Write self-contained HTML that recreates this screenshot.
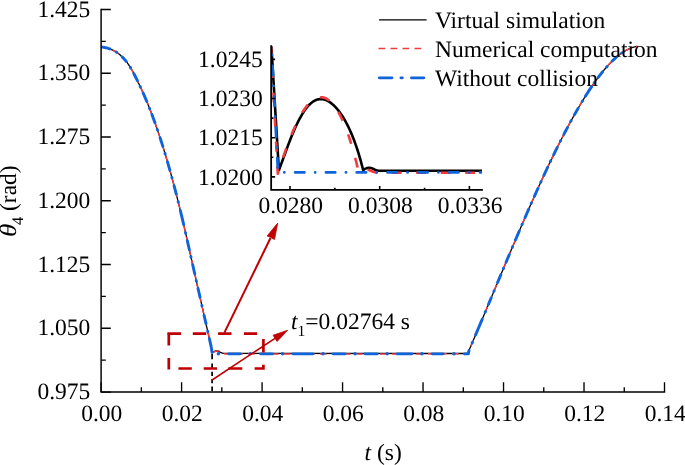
<!DOCTYPE html>
<html><head><meta charset="utf-8"><style>
html,body{margin:0;padding:0;background:#fff;}
svg{display:block;text-rendering:geometricPrecision;will-change:transform;}
</style></head><body>
<svg width="685" height="465" viewBox="0 0 685 465" font-family="Liberation Serif" font-size="23.5">
<defs>
<clipPath id="ic"><rect x="271.15" y="46.2" width="210.85000000000002" height="143.7"/></clipPath>
<clipPath id="mc"><rect x="101.1" y="9.5" width="563.5" height="382.55"/></clipPath>
</defs>
<!-- main curves -->
<g fill="none" stroke-linejoin="round" clip-path="url(#mc)">
<path d="M101.20,46.96 L101.70,47.02 L102.20,47.09 L102.70,47.16 L103.20,47.24 L103.70,47.32 L104.20,47.41 L104.70,47.50 L105.20,47.61 L105.70,47.71 L106.20,47.83 L106.70,47.95 L107.20,48.08 L107.70,48.22 L108.20,48.37 L108.70,48.52 L109.20,48.68 L109.70,48.86 L110.20,49.04 L110.70,49.23 L111.20,49.43 L111.70,49.64 L112.20,49.86 L112.70,50.09 L113.20,50.33 L113.70,50.59 L114.20,50.85 L114.70,51.13 L115.20,51.42 L115.70,51.72 L116.20,52.04 L116.70,52.36 L117.20,52.70 L117.70,53.06 L118.20,53.43 L118.70,53.81 L119.20,54.20 L119.70,54.61 L120.20,55.04 L120.70,55.48 L121.20,55.94 L121.70,56.41 L122.20,56.90 L122.70,57.40 L123.20,57.92 L123.70,58.46 L124.20,59.02 L124.70,59.59 L125.20,60.18 L125.70,60.79 L126.20,61.42 L126.70,62.06 L127.20,62.73 L127.70,63.42 L128.20,64.12 L128.70,64.85 L129.20,65.60 L129.70,66.37 L130.20,67.16 L130.70,67.97 L131.20,68.81 L131.70,69.67 L132.20,70.55 L132.70,71.45 L133.20,72.37 L133.70,73.31 L134.20,74.27 L134.70,75.24 L135.20,76.23 L135.70,77.23 L136.20,78.24 L136.70,79.26 L137.20,80.29 L137.70,81.33 L138.20,82.38 L138.70,83.43 L139.20,84.48 L139.70,85.54 L140.20,86.61 L140.70,87.68 L141.20,88.75 L141.70,89.84 L142.20,90.93 L142.70,92.04 L143.20,93.15 L143.70,94.28 L144.20,95.42 L144.70,96.57 L145.20,97.73 L145.70,98.90 L146.20,100.09 L146.70,101.28 L147.20,102.49 L147.70,103.71 L148.20,104.94 L148.70,106.18 L149.20,107.44 L149.70,108.71 L150.20,109.99 L150.70,111.28 L151.20,112.58 L151.70,113.90 L152.20,115.22 L152.70,116.56 L153.20,117.92 L153.70,119.28 L154.20,120.66 L154.70,122.04 L155.20,123.45 L155.70,124.86 L156.20,126.28 L156.70,127.72 L157.20,129.17 L157.70,130.64 L158.20,132.11 L158.70,133.60 L159.20,135.10 L159.70,136.61 L160.20,138.14 L160.70,139.68 L161.20,141.23 L161.70,142.79 L162.20,144.37 L162.70,145.96 L163.20,147.56 L163.70,149.18 L164.20,150.81 L164.70,152.45 L165.20,154.11 L165.70,155.77 L166.20,157.45 L166.70,159.15 L167.20,160.86 L167.70,162.58 L168.20,164.31 L168.70,166.06 L169.20,167.82 L169.70,169.59 L170.20,171.38 L170.70,173.18 L171.20,174.99 L171.70,176.82 L172.20,178.66 L172.70,180.52 L173.20,182.38 L173.70,184.26 L174.20,186.16 L174.70,188.07 L175.20,189.99 L175.70,191.93 L176.20,193.88 L176.70,195.84 L177.20,197.81 L177.70,199.80 L178.20,201.81 L178.70,203.82 L179.20,205.85 L179.70,207.90 L180.20,209.96 L180.70,212.03 L181.20,214.11 L181.70,216.21 L182.20,218.32 L182.70,220.44 L183.20,222.58 L183.70,224.73 L184.20,226.90 L184.70,229.07 L185.20,231.26 L185.70,233.46 L186.20,235.66 L186.70,237.88 L187.20,240.10 L187.70,242.33 L188.20,244.56 L188.70,246.80 L189.20,249.05 L189.70,251.29 L190.20,253.54 L190.70,255.78 L191.20,258.03 L191.70,260.27 L192.20,262.51 L192.70,264.75 L193.20,266.99 L193.70,269.22 L194.20,271.45 L194.70,273.68 L195.20,275.91 L195.70,278.13 L196.20,280.35 L196.70,282.58 L197.20,284.79 L197.70,287.01 L198.20,289.23 L198.70,291.45 L199.20,293.66 L199.70,295.88 L200.20,298.09 L200.70,300.30 L201.20,302.51 L201.70,304.73 L202.20,306.94 L202.70,309.15 L203.20,311.36 L203.70,313.57 L204.20,315.78 L204.70,318.00 L205.20,320.21 L205.70,322.42 L206.20,324.64 L206.70,326.85 L207.20,329.07 L207.70,331.28 L208.20,333.50 L208.70,335.72 L209.20,337.94 L209.70,340.17 L210.20,342.39 L210.70,344.62 L211.20,346.85 L212.10,352.80 L213.50,351.90 L215.00,351.20 L216.70,351.00 L218.50,351.30 L220.50,352.30 L222.50,353.20 L224.50,353.40 L468.00,353.50 L468.50,351.51 L469.00,350.34 L469.50,349.18 L470.00,348.02 L470.50,346.85 L471.00,345.68 L471.50,344.51 L472.00,343.34 L472.50,342.17 L473.00,341.00 L473.50,339.83 L474.00,338.65 L474.50,337.48 L475.00,336.30 L475.50,335.12 L476.00,333.94 L476.50,332.76 L477.00,331.58 L477.50,330.40 L478.00,329.22 L478.50,328.04 L479.00,326.85 L479.50,325.67 L480.00,324.48 L480.50,323.30 L481.00,322.11 L481.50,320.92 L482.00,319.73 L482.50,318.54 L483.00,317.36 L483.50,316.16 L484.00,314.97 L484.50,313.78 L485.00,312.59 L485.50,311.40 L486.00,310.21 L486.50,309.01 L487.00,307.82 L487.50,306.62 L488.00,305.43 L488.50,304.23 L489.00,303.04 L489.50,301.84 L490.00,300.65 L490.50,299.45 L491.00,298.26 L491.50,297.06 L492.00,295.86 L492.50,294.67 L493.00,293.47 L493.50,292.27 L494.00,291.07 L494.50,289.88 L495.00,288.68 L495.50,287.48 L496.00,286.28 L496.50,285.09 L497.00,283.89 L497.50,282.69 L498.00,281.50 L498.50,280.30 L499.00,279.10 L499.50,277.90 L500.00,276.71 L500.50,275.51 L501.00,274.32 L501.50,273.12 L502.00,271.93 L502.50,270.73 L503.00,269.54 L503.50,268.34 L504.00,267.15 L504.50,265.95 L505.00,264.76 L505.50,263.57 L506.00,262.38 L506.50,261.18 L507.00,259.99 L507.50,258.80 L508.00,257.61 L508.50,256.42 L509.00,255.24 L509.50,254.05 L510.00,252.86 L510.50,251.67 L511.00,250.49 L511.50,249.30 L512.00,248.12 L512.50,246.94 L513.00,245.75 L513.50,244.57 L514.00,243.39 L514.50,242.21 L515.00,241.03 L515.50,239.86 L516.00,238.68 L516.50,237.50 L517.00,236.33 L517.50,235.16 L518.00,233.98 L518.50,232.81 L519.00,231.64 L519.50,230.47 L520.00,229.30 L520.50,228.14 L521.00,226.97 L521.50,225.81 L522.00,224.64 L522.50,223.48 L523.00,222.32 L523.50,221.16 L524.00,220.01 L524.50,218.85 L525.00,217.70 L525.50,216.54 L526.00,215.39 L526.50,214.24 L527.00,213.09 L527.50,211.95 L528.00,210.80 L528.50,209.66 L529.00,208.51 L529.50,207.37 L530.00,206.23 L530.50,205.10 L531.00,203.96 L531.50,202.83 L532.00,201.70 L532.50,200.57 L533.00,199.44 L533.50,198.31 L534.00,197.19 L534.50,196.07 L535.00,194.94 L535.50,193.83 L536.00,192.71 L536.50,191.59 L537.00,190.48 L537.50,189.37 L538.00,188.26 L538.50,187.16 L539.00,186.05 L539.50,184.95 L540.00,183.85 L540.50,182.75 L541.00,181.66 L541.50,180.56 L542.00,179.47 L542.50,178.38 L543.00,177.30 L543.50,176.21 L544.00,175.13 L544.50,174.05 L545.00,172.98 L545.50,171.90 L546.00,170.83 L546.50,169.76 L547.00,168.70 L547.50,167.63 L548.00,166.57 L548.50,165.51 L549.00,164.45 L549.50,163.40 L550.00,162.35 L550.50,161.30 L551.00,160.25 L551.50,159.21 L552.00,158.17 L552.50,157.13 L553.00,156.10 L553.50,155.07 L554.00,154.04 L554.50,153.01 L555.00,151.99 L555.50,150.97 L556.00,149.95 L556.50,148.94 L557.00,147.93 L557.50,146.92 L558.00,145.92 L558.50,144.91 L559.00,143.92 L559.50,142.92 L560.00,141.93 L560.50,140.94 L561.00,139.95 L561.50,138.97 L562.00,137.99 L562.50,137.01 L563.00,136.04 L563.50,135.07 L564.00,134.11 L564.50,133.14 L565.00,132.18 L565.50,131.23 L566.00,130.28 L566.50,129.33 L567.00,128.38 L567.50,127.44 L568.00,126.50 L568.50,125.57 L569.00,124.63 L569.50,123.71 L570.00,122.78 L570.50,121.86 L571.00,120.95 L571.50,120.03 L572.00,119.13 L572.50,118.22 L573.00,117.32 L573.50,116.42 L574.00,115.53 L574.50,114.64 L575.00,113.75 L575.50,112.87 L576.00,111.99 L576.50,111.12 L577.00,110.25 L577.50,109.38 L578.00,108.52 L578.50,107.66 L579.00,106.81 L579.50,105.96 L580.00,105.12 L580.50,104.27 L581.00,103.44 L581.50,102.60 L582.00,101.78 L582.50,100.95 L583.00,100.13 L583.50,99.32 L584.00,98.50 L584.50,97.70 L585.00,96.90 L585.50,96.10 L586.00,95.30 L586.50,94.51 L587.00,93.73 L587.50,92.95 L588.00,92.17 L588.50,91.40 L589.00,90.64 L589.50,89.88 L590.00,89.12 L590.50,88.37 L591.00,87.62 L591.50,86.88 L592.00,86.14 L592.50,85.41 L593.00,84.68 L593.50,83.96 L594.00,83.24 L594.50,82.53 L595.00,81.83 L595.50,81.12 L596.00,80.43 L596.50,79.74 L597.00,79.05 L597.50,78.37 L598.00,77.70 L598.50,77.03 L599.00,76.37 L599.50,75.71 L600.00,75.06 L600.50,74.42 L601.00,73.78 L601.50,73.14 L602.00,72.52 L602.50,71.89 L603.00,71.28 L603.50,70.67 L604.00,70.07 L604.50,69.47 L605.00,68.88 L605.50,68.29 L606.00,67.72 L606.50,67.15 L607.00,66.58 L607.50,66.02 L608.00,65.47 L608.50,64.92 L609.00,64.38 L609.50,63.85 L610.00,63.33 L610.50,62.81 L611.00,62.30 L611.50,61.79 L612.00,61.29 L612.50,60.80 L613.00,60.32 L613.50,59.84 L614.00,59.37 L614.50,58.91 L615.00,58.46 L615.50,58.01 L616.00,57.57 L616.50,57.13 L617.00,56.71 L617.50,56.29 L618.00,55.88 L618.50,55.48 L619.00,55.08 L619.50,54.69 L620.00,54.31 L620.50,53.94 L621.00,53.58 L621.50,53.22 L622.00,52.87 L622.50,52.53 L623.00,52.20 L623.50,51.88 L624.00,51.56 L624.50,51.25 L625.00,50.95 L625.50,50.66 L626.00,50.38 L626.50,50.11 L627.00,49.84 L627.50,49.58 L628.00,49.33 L628.50,49.09 L629.00,48.86 L629.50,48.64 L630.00,48.42 L630.50,48.22 L631.00,48.02 L631.50,47.83 L632.00,47.65 L632.50,47.48 L633.00,47.32 L633.50,47.17 L634.00,47.03 L634.50,46.90 L635.00,46.77 L635.50,46.66 L636.00,46.55 L636.50,46.46 L637.00,46.37 L637.50,46.29" stroke="#000" stroke-width="1.3"/>
<path d="M101.20,46.96 L101.70,47.02 L102.20,47.09 L102.70,47.16 L103.20,47.24 L103.70,47.32 L104.20,47.41 L104.70,47.50 L105.20,47.61 L105.70,47.71 L106.20,47.83 L106.70,47.95 L107.20,48.08 L107.70,48.22 L108.20,48.37 L108.70,48.52 L109.20,48.68 L109.70,48.86 L110.20,49.04 L110.70,49.23 L111.20,49.43 L111.70,49.64 L112.20,49.86 L112.70,50.09 L113.20,50.33 L113.70,50.59 L114.20,50.85 L114.70,51.13 L115.20,51.42 L115.70,51.72 L116.20,52.04 L116.70,52.36 L117.20,52.70 L117.70,53.06 L118.20,53.43 L118.70,53.81 L119.20,54.20 L119.70,54.61 L120.20,55.04 L120.70,55.48 L121.20,55.94 L121.70,56.41 L122.20,56.90 L122.70,57.40 L123.20,57.92 L123.70,58.46 L124.20,59.02 L124.70,59.59 L125.20,60.18 L125.70,60.79 L126.20,61.42 L126.70,62.06 L127.20,62.73 L127.70,63.42 L128.20,64.12 L128.70,64.85 L129.20,65.60 L129.70,66.37 L130.20,67.16 L130.70,67.97 L131.20,68.81 L131.70,69.67 L132.20,70.55 L132.70,71.45 L133.20,72.37 L133.70,73.31 L134.20,74.27 L134.70,75.24 L135.20,76.23 L135.70,77.23 L136.20,78.24 L136.70,79.26 L137.20,80.29 L137.70,81.33 L138.20,82.38 L138.70,83.43 L139.20,84.48 L139.70,85.54 L140.20,86.61 L140.70,87.68 L141.20,88.75 L141.70,89.84 L142.20,90.93 L142.70,92.04 L143.20,93.15 L143.70,94.28 L144.20,95.42 L144.70,96.57 L145.20,97.73 L145.70,98.90 L146.20,100.09 L146.70,101.28 L147.20,102.49 L147.70,103.71 L148.20,104.94 L148.70,106.18 L149.20,107.44 L149.70,108.71 L150.20,109.99 L150.70,111.28 L151.20,112.58 L151.70,113.90 L152.20,115.22 L152.70,116.56 L153.20,117.92 L153.70,119.28 L154.20,120.66 L154.70,122.04 L155.20,123.45 L155.70,124.86 L156.20,126.28 L156.70,127.72 L157.20,129.17 L157.70,130.64 L158.20,132.11 L158.70,133.60 L159.20,135.10 L159.70,136.61 L160.20,138.14 L160.70,139.68 L161.20,141.23 L161.70,142.79 L162.20,144.37 L162.70,145.96 L163.20,147.56 L163.70,149.18 L164.20,150.81 L164.70,152.45 L165.20,154.11 L165.70,155.77 L166.20,157.45 L166.70,159.15 L167.20,160.86 L167.70,162.58 L168.20,164.31 L168.70,166.06 L169.20,167.82 L169.70,169.59 L170.20,171.38 L170.70,173.18 L171.20,174.99 L171.70,176.82 L172.20,178.66 L172.70,180.52 L173.20,182.38 L173.70,184.26 L174.20,186.16 L174.70,188.07 L175.20,189.99 L175.70,191.93 L176.20,193.88 L176.70,195.84 L177.20,197.81 L177.70,199.80 L178.20,201.81 L178.70,203.82 L179.20,205.85 L179.70,207.90 L180.20,209.96 L180.70,212.03 L181.20,214.11 L181.70,216.21 L182.20,218.32 L182.70,220.44 L183.20,222.58 L183.70,224.73 L184.20,226.90 L184.70,229.07 L185.20,231.26 L185.70,233.46 L186.20,235.66 L186.70,237.88 L187.20,240.10 L187.70,242.33 L188.20,244.56 L188.70,246.80 L189.20,249.05 L189.70,251.29 L190.20,253.54 L190.70,255.78 L191.20,258.03 L191.70,260.27 L192.20,262.51 L192.70,264.75 L193.20,266.99 L193.70,269.22 L194.20,271.45 L194.70,273.68 L195.20,275.91 L195.70,278.13 L196.20,280.35 L196.70,282.58 L197.20,284.79 L197.70,287.01 L198.20,289.23 L198.70,291.45 L199.20,293.66 L199.70,295.88 L200.20,298.09 L200.70,300.30 L201.20,302.51 L201.70,304.73 L202.20,306.94 L202.70,309.15 L203.20,311.36 L203.70,313.57 L204.20,315.78 L204.70,318.00 L205.20,320.21 L205.70,322.42 L206.20,324.64 L206.70,326.85 L207.20,329.07 L207.70,331.28 L208.20,333.50 L208.70,335.72 L209.20,337.94 L209.70,340.17 L210.20,342.39 L210.70,344.62 L211.20,346.85 L212.10,352.80 L213.50,352.30 L215.50,351.40 L217.50,350.90 L219.50,350.90 L221.50,352.00 L223.50,353.60 L225.50,354.00 L468.00,353.85 L468.50,351.51 L469.00,350.34 L469.50,349.18 L470.00,348.02 L470.50,346.85 L471.00,345.68 L471.50,344.51 L472.00,343.34 L472.50,342.17 L473.00,341.00 L473.50,339.83 L474.00,338.65 L474.50,337.48 L475.00,336.30 L475.50,335.12 L476.00,333.94 L476.50,332.76 L477.00,331.58 L477.50,330.40 L478.00,329.22 L478.50,328.04 L479.00,326.85 L479.50,325.67 L480.00,324.48 L480.50,323.30 L481.00,322.11 L481.50,320.92 L482.00,319.73 L482.50,318.54 L483.00,317.36 L483.50,316.16 L484.00,314.97 L484.50,313.78 L485.00,312.59 L485.50,311.40 L486.00,310.21 L486.50,309.01 L487.00,307.82 L487.50,306.62 L488.00,305.43 L488.50,304.23 L489.00,303.04 L489.50,301.84 L490.00,300.65 L490.50,299.45 L491.00,298.26 L491.50,297.06 L492.00,295.86 L492.50,294.67 L493.00,293.47 L493.50,292.27 L494.00,291.07 L494.50,289.88 L495.00,288.68 L495.50,287.48 L496.00,286.28 L496.50,285.09 L497.00,283.89 L497.50,282.69 L498.00,281.50 L498.50,280.30 L499.00,279.10 L499.50,277.90 L500.00,276.71 L500.50,275.51 L501.00,274.32 L501.50,273.12 L502.00,271.93 L502.50,270.73 L503.00,269.54 L503.50,268.34 L504.00,267.15 L504.50,265.95 L505.00,264.76 L505.50,263.57 L506.00,262.38 L506.50,261.18 L507.00,259.99 L507.50,258.80 L508.00,257.61 L508.50,256.42 L509.00,255.24 L509.50,254.05 L510.00,252.86 L510.50,251.67 L511.00,250.49 L511.50,249.30 L512.00,248.12 L512.50,246.94 L513.00,245.75 L513.50,244.57 L514.00,243.39 L514.50,242.21 L515.00,241.03 L515.50,239.86 L516.00,238.68 L516.50,237.50 L517.00,236.33 L517.50,235.16 L518.00,233.98 L518.50,232.81 L519.00,231.64 L519.50,230.47 L520.00,229.30 L520.50,228.14 L521.00,226.97 L521.50,225.81 L522.00,224.64 L522.50,223.48 L523.00,222.32 L523.50,221.16 L524.00,220.01 L524.50,218.85 L525.00,217.70 L525.50,216.54 L526.00,215.39 L526.50,214.24 L527.00,213.09 L527.50,211.95 L528.00,210.80 L528.50,209.66 L529.00,208.51 L529.50,207.37 L530.00,206.23 L530.50,205.10 L531.00,203.96 L531.50,202.83 L532.00,201.70 L532.50,200.57 L533.00,199.44 L533.50,198.31 L534.00,197.19 L534.50,196.07 L535.00,194.94 L535.50,193.83 L536.00,192.71 L536.50,191.59 L537.00,190.48 L537.50,189.37 L538.00,188.26 L538.50,187.16 L539.00,186.05 L539.50,184.95 L540.00,183.85 L540.50,182.75 L541.00,181.66 L541.50,180.56 L542.00,179.47 L542.50,178.38 L543.00,177.30 L543.50,176.21 L544.00,175.13 L544.50,174.05 L545.00,172.98 L545.50,171.90 L546.00,170.83 L546.50,169.76 L547.00,168.70 L547.50,167.63 L548.00,166.57 L548.50,165.51 L549.00,164.45 L549.50,163.40 L550.00,162.35 L550.50,161.30 L551.00,160.25 L551.50,159.21 L552.00,158.17 L552.50,157.13 L553.00,156.10 L553.50,155.07 L554.00,154.04 L554.50,153.01 L555.00,151.99 L555.50,150.97 L556.00,149.95 L556.50,148.94 L557.00,147.93 L557.50,146.92 L558.00,145.92 L558.50,144.91 L559.00,143.92 L559.50,142.92 L560.00,141.93 L560.50,140.94 L561.00,139.95 L561.50,138.97 L562.00,137.99 L562.50,137.01 L563.00,136.04 L563.50,135.07 L564.00,134.11 L564.50,133.14 L565.00,132.18 L565.50,131.23 L566.00,130.28 L566.50,129.33 L567.00,128.38 L567.50,127.44 L568.00,126.50 L568.50,125.57 L569.00,124.63 L569.50,123.71 L570.00,122.78 L570.50,121.86 L571.00,120.95 L571.50,120.03 L572.00,119.13 L572.50,118.22 L573.00,117.32 L573.50,116.42 L574.00,115.53 L574.50,114.64 L575.00,113.75 L575.50,112.87 L576.00,111.99 L576.50,111.12 L577.00,110.25 L577.50,109.38 L578.00,108.52 L578.50,107.66 L579.00,106.81 L579.50,105.96 L580.00,105.12 L580.50,104.27 L581.00,103.44 L581.50,102.60 L582.00,101.78 L582.50,100.95 L583.00,100.13 L583.50,99.32 L584.00,98.50 L584.50,97.70 L585.00,96.90 L585.50,96.10 L586.00,95.30 L586.50,94.51 L587.00,93.73 L587.50,92.95 L588.00,92.17 L588.50,91.40 L589.00,90.64 L589.50,89.88 L590.00,89.12 L590.50,88.37 L591.00,87.62 L591.50,86.88 L592.00,86.14 L592.50,85.41 L593.00,84.68 L593.50,83.96 L594.00,83.24 L594.50,82.53 L595.00,81.83 L595.50,81.12 L596.00,80.43 L596.50,79.74 L597.00,79.05 L597.50,78.37 L598.00,77.70 L598.50,77.03 L599.00,76.37 L599.50,75.71 L600.00,75.06 L600.50,74.42 L601.00,73.78 L601.50,73.14 L602.00,72.52 L602.50,71.89 L603.00,71.28 L603.50,70.67 L604.00,70.07 L604.50,69.47 L605.00,68.88 L605.50,68.29 L606.00,67.72 L606.50,67.15 L607.00,66.58 L607.50,66.02 L608.00,65.47 L608.50,64.92 L609.00,64.38 L609.50,63.85 L610.00,63.33 L610.50,62.81 L611.00,62.30 L611.50,61.79 L612.00,61.29 L612.50,60.80 L613.00,60.32 L613.50,59.84 L614.00,59.37 L614.50,58.91 L615.00,58.46 L615.50,58.01 L616.00,57.57 L616.50,57.13 L617.00,56.71 L617.50,56.29 L618.00,55.88 L618.50,55.48 L619.00,55.08 L619.50,54.69 L620.00,54.31 L620.50,53.94 L621.00,53.58 L621.50,53.22 L622.00,52.87 L622.50,52.53 L623.00,52.20 L623.50,51.88 L624.00,51.56 L624.50,51.25 L625.00,50.95 L625.50,50.66 L626.00,50.38 L626.50,50.11 L627.00,49.84 L627.50,49.58 L628.00,49.33 L628.50,49.09 L629.00,48.86 L629.50,48.64 L630.00,48.42 L630.50,48.22 L631.00,48.02 L631.50,47.83 L632.00,47.65 L632.50,47.48 L633.00,47.32 L633.50,47.17 L634.00,47.03 L634.50,46.90 L635.00,46.77 L635.50,46.66 L636.00,46.55 L636.50,46.46 L637.00,46.37 L637.50,46.29" stroke="#F23B3F" stroke-width="1.5" stroke-dasharray="6.7 5.3"/>
<g stroke="#0F64DC" stroke-width="2.9" stroke-linecap="round">
<path d="M101.20,46.96 L101.70,47.02 L102.20,47.09 L102.70,47.16 L103.20,47.24 L103.70,47.32 L104.20,47.41 L104.70,47.50 L105.20,47.61 L105.70,47.71 L106.20,47.83 L106.70,47.95 L107.20,48.08 L107.70,48.22 L108.20,48.37 L108.70,48.52 L109.20,48.68 L109.70,48.86 L110.20,49.04 L110.70,49.23 L111.20,49.43 L111.70,49.64 L112.20,49.86 L112.70,50.09 L113.20,50.33 L113.70,50.59 L114.20,50.85 L114.70,51.13 L115.20,51.42 L115.70,51.72 L116.20,52.04 L116.70,52.36 L117.20,52.70 L117.70,53.06 L118.20,53.43 L118.70,53.81 L119.20,54.20 L119.70,54.61 L120.20,55.04 L120.70,55.48 L121.20,55.94 L121.70,56.41 L122.20,56.90 L122.70,57.40 L123.20,57.92 L123.70,58.46 L124.20,59.02 L124.70,59.59 L125.20,60.18 L125.70,60.79 L126.20,61.42 L126.70,62.06 L127.20,62.73 L127.70,63.42 L128.20,64.12 L128.70,64.85 L129.20,65.60 L129.70,66.37 L130.20,67.16 L130.70,67.97 L131.20,68.81 L131.70,69.67 L132.20,70.55 L132.70,71.45 L133.20,72.37 L133.70,73.31 L134.20,74.27 L134.70,75.24 L135.20,76.23 L135.70,77.23 L136.20,78.24 L136.70,79.26 L137.20,80.29 L137.70,81.33 L138.20,82.38 L138.70,83.43 L139.20,84.48 L139.70,85.54 L140.20,86.61 L140.70,87.68 L141.20,88.75 L141.70,89.84 L142.20,90.93 L142.70,92.04 L143.20,93.15 L143.70,94.28 L144.20,95.42 L144.70,96.57 L145.20,97.73 L145.70,98.90 L146.20,100.09 L146.70,101.28 L147.20,102.49 L147.70,103.71 L148.20,104.94 L148.70,106.18 L149.20,107.44 L149.70,108.71 L150.20,109.99 L150.70,111.28 L151.20,112.58 L151.70,113.90 L152.20,115.22 L152.70,116.56 L153.20,117.92 L153.70,119.28 L154.20,120.66 L154.70,122.04 L155.20,123.45 L155.70,124.86 L156.20,126.28 L156.70,127.72 L157.20,129.17 L157.70,130.64 L158.20,132.11 L158.70,133.60 L159.20,135.10 L159.70,136.61 L160.20,138.14 L160.70,139.68 L161.20,141.23 L161.70,142.79 L162.20,144.37 L162.70,145.96 L163.20,147.56 L163.70,149.18 L164.20,150.81 L164.70,152.45 L165.20,154.11 L165.70,155.77 L166.20,157.45 L166.70,159.15 L167.20,160.86 L167.70,162.58 L168.20,164.31 L168.70,166.06 L169.20,167.82 L169.70,169.59 L170.20,171.38 L170.70,173.18 L171.20,174.99 L171.70,176.82 L172.20,178.66 L172.70,180.52 L173.20,182.38 L173.70,184.26 L174.20,186.16 L174.70,188.07 L175.20,189.99 L175.70,191.93 L176.20,193.88 L176.70,195.84 L177.20,197.81 L177.70,199.80 L178.20,201.81 L178.70,203.82 L179.20,205.85 L179.70,207.90 L180.20,209.96 L180.70,212.03 L181.20,214.11 L181.70,216.21 L182.20,218.32 L182.70,220.44 L183.20,222.58 L183.70,224.73 L184.20,226.90 L184.70,229.07 L185.20,231.26 L185.70,233.46 L186.20,235.66 L186.70,237.88 L187.20,240.10 L187.70,242.33 L188.20,244.56 L188.70,246.80 L189.20,249.05 L189.70,251.29 L190.20,253.54 L190.70,255.78 L191.20,258.03 L191.70,260.27 L192.20,262.51 L192.70,264.75 L193.20,266.99 L193.70,269.22 L194.20,271.45 L194.70,273.68 L195.20,275.91 L195.70,278.13 L196.20,280.35 L196.70,282.58 L197.20,284.79 L197.70,287.01 L198.20,289.23 L198.70,291.45 L199.20,293.66 L199.70,295.88 L200.20,298.09 L200.70,300.30 L201.20,302.51 L201.70,304.73 L202.20,306.94 L202.70,309.15 L203.20,311.36 L203.70,313.57 L204.20,315.78 L204.70,318.00 L205.20,320.21 L205.70,322.42 L206.20,324.64 L206.70,326.85 L207.20,329.07 L207.70,331.28 L208.20,333.50 L208.70,335.72 L209.20,337.94 L209.70,340.17 L210.20,342.39 L210.70,344.62 L211.20,346.85 L212.00,352.40" stroke-dasharray="8.85 7.15 0.60 7.15 6.00 7.25 0.60 6.65 7.80 6.45 0.60 6.65 9.20 7.25 0.60 6.15 8.70 7.25 0.60 8.15 8.90 7.45 0.60 8.15 8.80 7.35 0.60 8.05 8.70 7.75 0.60 8.35 14.60 8.35 0.60 7.65 9.40 6.95 0.60 7.65 9.40 6.85 0.60 7.35 9.20 8.25 0.60 9.65 8.60 7.65 0.60 7.05 14.00 2000.00"/>
<path d="M228.65,353.85 H240.35 M260.55,353.85 H272.55 M292.65,353.85 H313.05 M332.95,353.85 H345.05 M364.85,353.85 H377.25 M397.05,353.85 H411.95 M432.15,353.85 H443.05"/>
<path d="M464.25,353.85 L468.30,353.85 L469.00,350.34 L469.50,349.18 L470.00,348.02 L470.50,346.85 L471.00,345.68 L471.50,344.51 L472.00,343.34 L472.50,342.17 L473.00,341.00 L473.50,339.83 L474.00,338.65 L474.50,337.48 L475.00,336.30 L475.50,335.12 L476.00,333.94 L476.50,332.76 L477.00,331.58 L477.50,330.40 L478.00,329.22 L478.50,328.04 L479.00,326.85 L479.50,325.67 L480.00,324.48 L480.50,323.30 L481.00,322.11 L481.50,320.92 L482.00,319.73 L482.50,318.54 L483.00,317.36 L483.50,316.16 L484.00,314.97 L484.50,313.78 L485.00,312.59 L485.50,311.40 L486.00,310.21 L486.50,309.01 L487.00,307.82 L487.50,306.62 L488.00,305.43 L488.50,304.23 L489.00,303.04 L489.50,301.84 L490.00,300.65 L490.50,299.45 L491.00,298.26 L491.50,297.06 L492.00,295.86 L492.50,294.67 L493.00,293.47 L493.50,292.27 L494.00,291.07 L494.50,289.88 L495.00,288.68 L495.50,287.48 L496.00,286.28 L496.50,285.09 L497.00,283.89 L497.50,282.69 L498.00,281.50 L498.50,280.30 L499.00,279.10 L499.50,277.90 L500.00,276.71 L500.50,275.51 L501.00,274.32 L501.50,273.12 L502.00,271.93 L502.50,270.73 L503.00,269.54 L503.50,268.34 L504.00,267.15 L504.50,265.95 L505.00,264.76 L505.50,263.57 L506.00,262.38 L506.50,261.18 L507.00,259.99 L507.50,258.80 L508.00,257.61 L508.50,256.42 L509.00,255.24 L509.50,254.05 L510.00,252.86 L510.50,251.67 L511.00,250.49 L511.50,249.30 L512.00,248.12 L512.50,246.94 L513.00,245.75 L513.50,244.57 L514.00,243.39 L514.50,242.21 L515.00,241.03 L515.50,239.86 L516.00,238.68 L516.50,237.50 L517.00,236.33 L517.50,235.16 L518.00,233.98 L518.50,232.81 L519.00,231.64 L519.50,230.47 L520.00,229.30 L520.50,228.14 L521.00,226.97 L521.50,225.81 L522.00,224.64 L522.50,223.48 L523.00,222.32 L523.50,221.16 L524.00,220.01 L524.50,218.85 L525.00,217.70 L525.50,216.54 L526.00,215.39 L526.50,214.24 L527.00,213.09 L527.50,211.95 L528.00,210.80 L528.50,209.66 L529.00,208.51 L529.50,207.37 L530.00,206.23 L530.50,205.10 L531.00,203.96 L531.50,202.83 L532.00,201.70 L532.50,200.57 L533.00,199.44 L533.50,198.31 L534.00,197.19 L534.50,196.07 L535.00,194.94 L535.50,193.83 L536.00,192.71 L536.50,191.59 L537.00,190.48 L537.50,189.37 L538.00,188.26 L538.50,187.16 L539.00,186.05 L539.50,184.95 L540.00,183.85 L540.50,182.75 L541.00,181.66 L541.50,180.56 L542.00,179.47 L542.50,178.38 L543.00,177.30 L543.50,176.21 L544.00,175.13 L544.50,174.05 L545.00,172.98 L545.50,171.90 L546.00,170.83 L546.50,169.76 L547.00,168.70 L547.50,167.63 L548.00,166.57 L548.50,165.51 L549.00,164.45 L549.50,163.40 L550.00,162.35 L550.50,161.30 L551.00,160.25 L551.50,159.21 L552.00,158.17 L552.50,157.13 L553.00,156.10 L553.50,155.07 L554.00,154.04 L554.50,153.01 L555.00,151.99 L555.50,150.97 L556.00,149.95 L556.50,148.94 L557.00,147.93 L557.50,146.92 L558.00,145.92 L558.50,144.91 L559.00,143.92 L559.50,142.92 L560.00,141.93 L560.50,140.94 L561.00,139.95 L561.50,138.97 L562.00,137.99 L562.50,137.01 L563.00,136.04 L563.50,135.07 L564.00,134.11 L564.50,133.14 L565.00,132.18 L565.50,131.23 L566.00,130.28 L566.50,129.33 L567.00,128.38 L567.50,127.44 L568.00,126.50 L568.50,125.57 L569.00,124.63 L569.50,123.71 L570.00,122.78 L570.50,121.86 L571.00,120.95 L571.50,120.03 L572.00,119.13 L572.50,118.22 L573.00,117.32 L573.50,116.42 L574.00,115.53 L574.50,114.64 L575.00,113.75 L575.50,112.87 L576.00,111.99 L576.50,111.12 L577.00,110.25 L577.50,109.38 L578.00,108.52 L578.50,107.66 L579.00,106.81 L579.50,105.96 L580.00,105.12 L580.50,104.27 L581.00,103.44 L581.50,102.60 L582.00,101.78 L582.50,100.95 L583.00,100.13 L583.50,99.32 L584.00,98.50 L584.50,97.70 L585.00,96.90 L585.50,96.10 L586.00,95.30 L586.50,94.51 L587.00,93.73 L587.50,92.95 L588.00,92.17 L588.50,91.40 L589.00,90.64 L589.50,89.88 L590.00,89.12 L590.50,88.37 L591.00,87.62 L591.50,86.88 L592.00,86.14 L592.50,85.41 L593.00,84.68 L593.50,83.96 L594.00,83.24 L594.50,82.53 L595.00,81.83 L595.50,81.12 L596.00,80.43 L596.50,79.74 L597.00,79.05 L597.50,78.37 L598.00,77.70 L598.50,77.03 L599.00,76.37 L599.50,75.71 L600.00,75.06 L600.50,74.42 L601.00,73.78 L601.50,73.14 L602.00,72.52 L602.50,71.89 L603.00,71.28 L603.50,70.67 L604.00,70.07 L604.50,69.47 L605.00,68.88 L605.50,68.29 L606.00,67.72 L606.50,67.15 L607.00,66.58 L607.50,66.02 L608.00,65.47 L608.50,64.92 L609.00,64.38 L609.50,63.85 L610.00,63.33 L610.50,62.81 L611.00,62.30 L611.50,61.79 L612.00,61.29 L612.50,60.80 L613.00,60.32 L613.50,59.84 L614.00,59.37 L614.50,58.91 L615.00,58.46 L615.50,58.01 L616.00,57.57 L616.50,57.13 L617.00,56.71 L617.50,56.29 L618.00,55.88 L618.50,55.48 L619.00,55.08 L619.50,54.69 L620.00,54.31 L620.50,53.94 L621.00,53.58 L621.50,53.22 L622.00,52.87 L622.50,52.53" stroke-dasharray="7.55 8.15 0.60 8.15 17.00 7.75 0.60 7.85 7.10 6.95 0.60 9.05 8.40 6.45 0.60 6.45 8.20 7.95 0.60 7.45 9.70 6.85 0.60 7.35 9.00 6.15 0.60 7.15 8.90 6.85 0.60 6.75 8.90 6.55 0.60 6.95 7.80 7.15 0.60 7.25 7.50 7.05 0.60 6.85 7.30 8.15 0.60 5.55 11.30 4.85 0.60 6.05 7.10 6.35 0.60 7.55 5.60 6.85 0.60 2000.00"/>
</g>
<g fill="#0F64DC"><circle cx="218.4" cy="353.85" r="1.75"/><circle cx="250.4" cy="353.85" r="1.75"/><circle cx="282.5" cy="353.85" r="1.75"/><circle cx="323" cy="353.85" r="1.75"/><circle cx="355" cy="353.85" r="1.75"/><circle cx="387.1" cy="353.85" r="1.75"/><circle cx="421.9" cy="353.85" r="1.75"/><circle cx="454" cy="353.85" r="1.75"/></g>
</g>
<!-- vertical dashed marker -->
<path d="M212.1,353.9 V359.2 M212.1,363.5 V368.8 M212.1,371.7 V376.1 M212.1,379 V383.3 M212.1,386.6 V391" stroke="#000" stroke-width="1.7" fill="none"/>
<!-- axes -->
<path d="M101.1,9.5 V392.05 H664.5" stroke="#000" stroke-width="1.45" fill="none" stroke-linecap="square"/>
<path d="M101.10,9.50 h9.7 M101.10,41.38 h4.7 M101.10,73.26 h9.7 M101.10,105.14 h4.7 M101.10,137.02 h9.7 M101.10,168.90 h4.7 M101.10,200.78 h9.7 M101.10,232.65 h4.7 M101.10,264.53 h9.7 M101.10,296.41 h4.7 M101.10,328.29 h9.7 M101.10,360.17 h4.7 M101.10,392.05 h9.7 M101.10,392.05 v-9.7 M141.34,392.05 v-4.7 M181.59,392.05 v-9.7 M221.83,392.05 v-4.7 M262.07,392.05 v-9.7 M302.32,392.05 v-4.7 M342.56,392.05 v-9.7 M382.80,392.05 v-4.7 M423.04,392.05 v-9.7 M463.29,392.05 v-4.7 M503.53,392.05 v-9.7 M543.77,392.05 v-4.7 M584.02,392.05 v-9.7 M624.26,392.05 v-4.7 M664.50,392.05 v-9.7" stroke="#000" stroke-width="1.35" fill="none"/>
<g fill="#000"><text x="90.3" y="16.60" text-anchor="end">1.425</text><text x="90.3" y="80.36" text-anchor="end">1.350</text><text x="90.3" y="144.12" text-anchor="end">1.275</text><text x="90.3" y="207.88" text-anchor="end">1.200</text><text x="90.3" y="271.63" text-anchor="end">1.125</text><text x="90.3" y="335.39" text-anchor="end">1.050</text><text x="90.3" y="399.15" text-anchor="end">0.975</text><text x="101.80" y="421.3" text-anchor="middle">0.00</text><text x="182.29" y="421.3" text-anchor="middle">0.02</text><text x="262.77" y="421.3" text-anchor="middle">0.04</text><text x="343.26" y="421.3" text-anchor="middle">0.06</text><text x="423.74" y="421.3" text-anchor="middle">0.08</text><text x="504.23" y="421.3" text-anchor="middle">0.10</text><text x="584.72" y="421.3" text-anchor="middle">0.12</text><text x="665.20" y="421.3" text-anchor="middle">0.14</text></g>
<text x="364.5" y="459.5"><tspan font-style="italic">t</tspan> (s)</text>
<g transform="translate(16.0,235.6) rotate(-90)"><text x="-1.2" transform="scale(1.16,1)" font-style="italic">θ</text><text x="10.7" y="6.5" font-size="16.3">4</text><text x="24.6">(rad)</text></g>
<!-- dashed rectangle -->
<g stroke="#C00000" stroke-width="2.7" fill="none">
<path d="M167.4,333.6 H181 M192.8,333.6 H206.2 M218.1,333.6 H231.5 M243.9,333.6 H257.1"/>
<path d="M263.4,339 V352.4 M263.4,364.8 V368.5 H254.6"/>
<path d="M242.3,368.5 H228.3 M217,368.5 H203.7 M191.8,368.5 H178.4"/>
<path d="M168.8,369.6 V358.1 M168.8,345.6 V333.6"/>
</g>
<!-- arrows -->
<g stroke="#C00000" fill="#C00000">
<path d="M224.4,332.6 L270.5,238" stroke-width="2" fill="none"/>
<path d="M277.7,223.1 L267.1,236 L270.4,237.3 L274.5,239.5 Z" stroke-width="0.8" stroke-linejoin="miter"/>
<path d="M212.1,380 L275,338.3" stroke-width="1.6" fill="none"/>
<path d="M287.6,330.3 L273.1,335.2 L274.8,338.1 L277.1,341.4 Z" stroke-width="0.8"/>
</g>
<text x="291" y="329.3"><tspan font-style="italic">t</tspan><tspan font-size="15.5" dy="6.6">1</tspan><tspan dy="-6.6">=0.02764 s</tspan></text>
<!-- inset -->
<rect x="271.15" y="46.2" width="210.85000000000002" height="143.7" fill="#fff"/>
<g fill="none" stroke-linejoin="round" clip-path="url(#ic)">
<path d="M271.00,40.00 L278.90,170.30 L279.00,169.99 L279.70,168.11 L280.40,166.21 L281.10,164.30 L281.80,162.38 L282.50,160.46 L283.20,158.53 L283.90,156.61 L284.60,154.69 L285.30,152.78 L286.00,150.88 L286.70,148.99 L287.40,147.11 L288.10,145.25 L288.80,143.41 L289.50,141.60 L290.20,139.80 L290.90,138.03 L291.60,136.29 L292.30,134.58 L293.00,132.90 L293.70,131.25 L294.40,129.63 L295.10,128.05 L295.80,126.50 L296.50,124.99 L297.20,123.52 L297.90,122.09 L298.60,120.69 L299.30,119.34 L300.00,118.03 L300.70,116.76 L301.40,115.53 L302.10,114.35 L302.80,113.21 L303.50,112.11 L304.20,111.06 L304.90,110.05 L305.60,109.09 L306.30,108.17 L307.00,107.30 L307.70,106.47 L308.40,105.69 L309.10,104.95 L309.80,104.26 L310.50,103.61 L311.20,103.00 L311.90,102.44 L312.60,101.93 L313.30,101.46 L314.00,101.03 L314.70,100.65 L315.40,100.31 L316.10,100.01 L316.80,99.75 L317.50,99.54 L318.20,99.37 L318.90,99.24 L319.60,99.15 L320.30,99.10 L321.00,99.09 L321.70,99.12 L322.40,99.19 L323.10,99.29 L323.80,99.44 L324.50,99.62 L325.20,99.84 L325.90,100.10 L326.60,100.39 L327.30,100.72 L328.00,101.09 L328.70,101.49 L329.40,101.92 L330.10,102.39 L330.80,102.90 L331.50,103.44 L332.20,104.01 L332.90,104.62 L333.60,105.26 L334.30,105.93 L335.00,106.64 L335.70,107.38 L336.40,108.16 L337.10,108.96 L337.80,109.81 L338.50,110.68 L339.20,111.59 L339.90,112.54 L340.60,113.52 L341.30,114.54 L342.00,115.59 L342.70,116.67 L343.40,117.80 L344.10,118.96 L344.80,120.16 L345.50,121.40 L346.20,122.68 L346.90,124.01 L347.60,125.37 L348.30,126.78 L349.00,128.23 L349.70,129.73 L350.40,131.27 L351.10,132.87 L351.80,134.51 L352.50,136.21 L353.20,137.96 L353.90,139.77 L354.60,141.64 L355.30,143.57 L356.00,145.56 L356.70,147.61 L357.40,149.74 L358.10,151.93 L358.80,154.19 L359.50,156.54 L360.20,158.96 L360.90,161.46 L361.60,164.05 L362.30,166.72 L363.00,169.49 L363.10,170.00 L365.00,168.90 L367.00,168.10 L369.00,167.80 L371.00,168.00 L373.00,168.70 L375.00,169.80 L377.00,170.60 L379.00,170.80 L490.00,170.80" stroke="#000" stroke-width="2.6"/>
<path d="M270.60,40.00 L277.80,173.80 L278.00,172.83 L278.70,170.65 L279.40,168.48 L280.10,166.33 L280.80,164.20 L281.50,162.09 L282.20,159.99 L282.90,157.92 L283.60,155.88 L284.30,153.85 L285.00,151.85 L285.70,149.88 L286.40,147.93 L287.10,146.01 L287.80,144.12 L288.50,142.26 L289.20,140.43 L289.90,138.63 L290.60,136.86 L291.30,135.12 L292.00,133.42 L292.70,131.74 L293.40,130.11 L294.10,128.50 L294.80,126.94 L295.50,125.41 L296.20,123.91 L296.90,122.45 L297.60,121.03 L298.30,119.65 L299.00,118.30 L299.70,117.00 L300.40,115.73 L301.10,114.50 L301.80,113.31 L302.50,112.17 L303.20,111.06 L303.90,109.99 L304.60,108.97 L305.30,107.98 L306.00,107.04 L306.70,106.14 L307.40,105.28 L308.10,104.46 L308.80,103.68 L309.50,102.95 L310.20,102.26 L310.90,101.62 L311.60,101.01 L312.30,100.45 L313.00,99.94 L313.70,99.47 L314.40,99.04 L315.10,98.65 L315.80,98.31 L316.50,98.02 L317.20,97.77 L317.90,97.56 L318.60,97.40 L319.30,97.28 L320.00,97.21 L320.70,97.19 L321.40,97.20 L322.10,97.27 L322.80,97.38 L323.50,97.54 L324.20,97.74 L324.90,97.99 L325.60,98.28 L326.30,98.63 L327.00,99.02 L327.70,99.45 L328.40,99.93 L329.10,100.47 L329.80,101.04 L330.50,101.67 L331.20,102.35 L331.90,103.07 L332.60,103.84 L333.30,104.66 L334.00,105.54 L334.70,106.46 L335.40,107.43 L336.10,108.45 L336.80,109.52 L337.50,110.65 L338.20,111.83 L338.90,113.06 L339.60,114.34 L340.30,115.67 L341.00,117.06 L341.70,118.51 L342.40,120.01 L343.10,121.56 L343.80,123.17 L344.50,124.84 L345.20,126.57 L345.90,128.35 L346.60,130.20 L347.30,132.10 L348.00,134.07 L348.70,136.09 L349.40,138.18 L350.10,140.33 L350.80,142.55 L351.50,144.83 L352.20,147.18 L352.90,149.60 L353.60,152.08 L354.30,154.63 L355.00,157.26 L355.70,159.96 L356.40,162.73 L357.10,165.57 L357.80,168.49 L358.50,172.30 L361.00,171.20 L364.00,169.80 L366.50,169.40 L369.50,170.20 L373.00,171.80 L376.00,172.60 L379.00,172.70 L490.00,172.70" stroke="#F23B3F" stroke-width="2.6" stroke-dasharray="10 14.53" stroke-dashoffset="-3.72"/>
<path d="M271.20,40.00 L278.00,171.60 L279.50,172.40 L490.00,172.40" stroke="#0F64DC" stroke-width="2.8" stroke-linecap="round" stroke-dasharray="9.2 10.8 0.01 10.8" stroke-dashoffset="-25.9"/>
</g>
<path d="M271.15,46.2 V189.9 H482.0" stroke="#000" stroke-width="1.8" fill="none" stroke-linecap="square"/>
<path d="M271.15,176.90 h4 M271.15,157.31 h2.2 M271.15,137.73 h4 M271.15,118.14 h2.2 M271.15,98.56 h4 M271.15,78.98 h2.2 M271.15,59.39 h4 M290.00,189.9 v-3.8 M379.70,189.9 v-3.8 M469.40,189.9 v-3.8 M334.85,189.9 v-2.2 M424.55,189.9 v-2.2" stroke="#000" stroke-width="1.6" fill="none"/>
<g fill="#000"><text x="262.7" y="184.60" text-anchor="end">1.0200</text><text x="262.7" y="145.43" text-anchor="end">1.0215</text><text x="262.7" y="106.26" text-anchor="end">1.0230</text><text x="262.7" y="67.09" text-anchor="end">1.0245</text><text x="290.70" y="213.4" text-anchor="middle">0.0280</text><text x="380.40" y="213.4" text-anchor="middle">0.0308</text><text x="470.10" y="213.4" text-anchor="middle">0.0336</text></g>
<!-- legend -->
<path d="M379.1,19.8 H426.6" stroke="#000" stroke-width="1.15"/>
<path d="M378.5,48.5 H421.5" stroke="#F23B3F" stroke-width="1.35" stroke-dasharray="6.7 5.3"/>
<path d="M379.25,77.8 H424" stroke="#0F64DC" stroke-width="2.7" stroke-linecap="round" stroke-dasharray="12.8 8.8 1.6 8.9 12.6 50"/>
<text x="435" y="27.8">Virtual simulation</text>
<text x="435" y="56.8">Numerical computation</text>
<text x="435" y="85.9">Without collision</text>
</svg>
</body></html>
